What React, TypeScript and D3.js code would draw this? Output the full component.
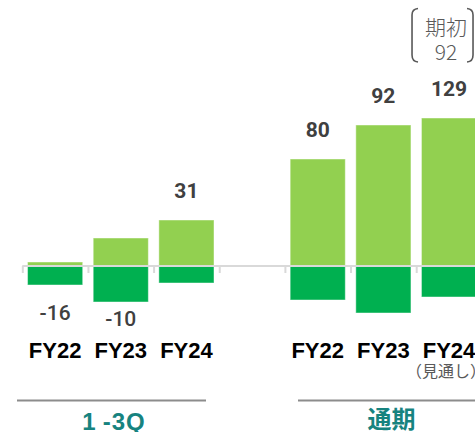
import React from "react";
import * as d3 from "d3";

const categories = ["FY22", "FY23", "FY24", "", "FY22", "FY23", "FY24"];
const positiveValues: (number | null)[] = [4, 28, 46, null, 107, 141, 148];
const negativeValues: (number | null)[] = [-19, -36, -17, null, -34, -47, -31];
const netValues: (number | null)[] = [-16, -10, 31, null, 80, 92, 129];
const groupLabels = ["1-3Q", "通期"];
const forecastNote = "（見通し）";
const initialNote = ["期初", "92"];

const W = 475;
const H = 432;
const LIGHT = "#92D050";
const DARK = "#00B050";
const TEAL = "#17837F";
const NUM = "#404040";
const GRAY = "#595959";
const JP = "'Noto Sans CJK JP', sans-serif";
const LAT = "'Liberation Sans', Arial, sans-serif";
const NUMF = "Roboto, 'Liberation Sans', sans-serif";

export default function App() {
  const keys = categories.map((_, i) => String(i));
  const step = 65.65;
  const x = d3
    .scaleBand<string>()
    .domain(keys)
    .range([22.3, 22.3 + step * keys.length])
    .padding(0);
  const y = d3.scaleLinear().domain([-50, 150]).range([316, 116]);
  const zero = y(0);
  const barW = x.bandwidth() * 0.84;
  const cx = (i: number) => (x(keys[i]) as number) + x.bandwidth() / 2;

  return (
    <svg
      width={W}
      height={H}
      style={{ position: "absolute", left: 0, top: 0, background: "#fff" }}
    >
      {/* bars */}
      {keys.map((k, i) => {
        const p = positiveValues[i];
        const n = negativeValues[i];
        if (p == null || n == null) return null;
        return (
          <g key={k}>
            <rect
              x={cx(i) - barW / 2}
              y={y(p)}
              width={barW}
              height={zero - y(p)}
              fill={LIGHT}
              stroke="#ffffff"
              strokeOpacity={0.45}
              strokeWidth={1}
            />
            <rect
              x={cx(i) - barW / 2}
              y={zero}
              width={barW}
              height={y(n) - zero}
              fill={DARK}
              stroke="#ffffff"
              strokeOpacity={0.45}
              strokeWidth={1}
            />
          </g>
        );
      })}
      {/* axis */}
      <line
        x1={x.range()[0]}
        x2={x.range()[1]}
        y1={zero}
        y2={zero}
        stroke="#d9d9d9"
        strokeWidth={2}
      />
      {keys.map((k) => (
        <line
          key={"t" + k}
          x1={(x(k) as number) + 0.5}
          x2={(x(k) as number) + 0.5}
          y1={zero}
          y2={zero + 7}
          stroke="#d9d9d9"
          strokeWidth={2}
        />
      ))}
      {/* value labels */}
      {keys.map((k, i) => {
        const v = netValues[i];
        const p = positiveValues[i];
        const n = negativeValues[i];
        if (v == null || p == null || n == null) return null;
        const yy = v >= 0 ? y(p) - 22 : Math.max(y(n) + 24, zero + 54);
        return (
          <text
            key={"v" + k}
            x={cx(i)}
            y={yy}
            textAnchor="middle"
            fontFamily={NUMF}
            fontWeight={v >= 0 ? 700 : 500}
            fontSize={21}
            fill={NUM}
          >
            {v}
          </text>
        );
      })}
      {/* category labels */}
      {categories.map((c, i) =>
        c ? (
          <text
            key={"c" + i}
            x={cx(i)}
            y={358}
            textAnchor="middle"
            fontFamily={LAT}
            fontWeight={700}
            fontSize={22}
            fill="#000"
          >
            {c}
          </text>
        ) : null
      )}
      <text
        x={cx(6) - 3}
        y={377}
        textAnchor="middle"
        fontFamily={JP}
        fontSize={16}
        fill={GRAY}
      >
        {forecastNote}
      </text>
      {/* initial forecast bracket */}
      <g>
        <path
          d={`M ${cx(6) - 31} 8.5 Q ${cx(6) - 37} 9 ${cx(6) - 37} 15 L ${cx(6) - 37} 55 Q ${cx(6) - 37} 61.5 ${cx(6) - 31} 62`}
          fill="none"
          stroke={GRAY}
          strokeWidth={1.6}
        />
        <path
          d={`M ${cx(6) + 18} 8.5 Q ${cx(6) + 24} 9 ${cx(6) + 24} 15 L ${cx(6) + 24} 55 Q ${cx(6) + 24} 61.5 ${cx(6) + 18} 62`}
          fill="none"
          stroke={GRAY}
          strokeWidth={1.6}
        />
        <text
          x={cx(6) - 3}
          y={35}
          textAnchor="middle"
          fontFamily={JP}
          fontSize={21}
          fill={GRAY}
          fontWeight={300}
        >
          {initialNote[0]}
        </text>
        <text
          x={cx(6) - 3}
          y={60}
          textAnchor="middle"
          fontFamily={JP}
          fontSize={21}
          fill={GRAY}
          fontWeight={300}
        >
          {initialNote[1]}
        </text>
      </g>
      {/* group separators */}
      <line x1={17} x2={206} y1={400.5} y2={400.5} stroke="#8c8c8c" strokeWidth={2.2} />
      <line x1={298} x2={W} y1={400.5} y2={400.5} stroke="#8c8c8c" strokeWidth={2.2} />
      <text
        x={114}
        y={430}
        textAnchor="middle"
        fontFamily={LAT}
        fontWeight={700}
        fontSize={24}
        fill={TEAL}
        letterSpacing={1}
      >
        {groupLabels[0].slice(0, 1)}
        <tspan dx={6}>{groupLabels[0].slice(1)}</tspan>
      </text>
      <text
        x={391.5}
        y={428}
        textAnchor="middle"
        fontFamily={JP}
        fontWeight={700}
        fontSize={24}
        fill={TEAL}
      >
        {groupLabels[1]}
      </text>
    </svg>
  );
}
